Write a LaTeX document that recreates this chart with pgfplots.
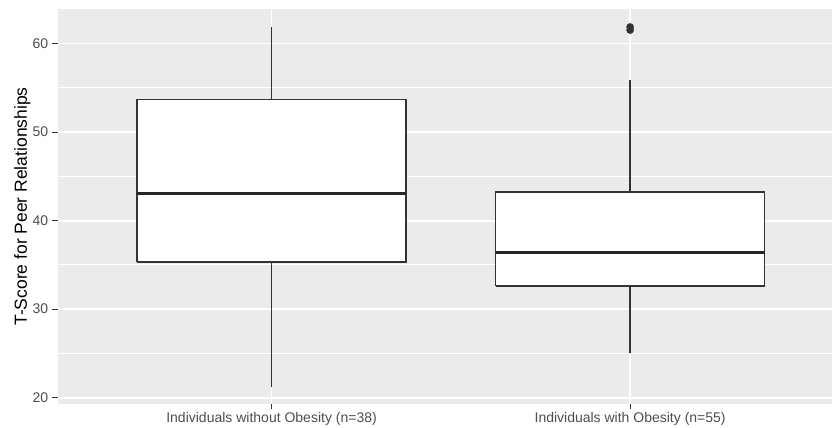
\documentclass[border=0pt]{standalone}
\usepackage{pgfplots}
\pgfplotsset{compat=1.18}
\usepackage{fontspec}
\setmainfont{Liberation Sans}

\definecolor{panelgray}{HTML}{EBEBEB}
\definecolor{gray20}{HTML}{333333}
\definecolor{gray30}{HTML}{4D4D4D}

\begin{document}
\begin{tikzpicture}
\begin{axis}[
    at={(0,0)}, anchor=south west,
    scale only axis,
    width=774.5bp, height=395bp,
    xmin=0.403, xmax=2.563,
    ymin=19.29, ymax=63.9,
    axis background/.style={fill=panelgray},
    axis line style={draw=none},
    xtick={1,2},
    xticklabels={Individuals without Obesity (n=38), Individuals with Obesity (n=55)},
    ytick={20,30,40,50,60},
    minor ytick={25,35,45,55},
    xtick pos=bottom, ytick pos=left,
    tick align=outside,
    major tick length=5bp,
    minor tick length=0pt,
    major tick style={gray20, line width=1bp},
    grid=both,
    major grid style={white, line width=1.8bp},
    minor grid style={white, line width=0.9bp},
    /pgf/number format/assume math mode=true,
    every x tick label/.append style={font=\fontsize{14bp}{16bp}\selectfont, text=gray30, anchor=base, yshift=-13.7bp},
    every y tick label/.append style={font=\fontsize{14bp}{16bp}\selectfont, text=gray30, anchor=east, inner sep=0pt, xshift=-4.2bp},
    ylabel={T-Score for Peer Relationships},
    every axis y label/.style={at={(axis description cs:-0.0395,0.5)}, anchor=base, rotate=90, font=\fontsize{17.5bp}{20bp}\selectfont},
]
% whiskers
\addplot[gray20, line width=1.5bp] coordinates {(1,53.7) (1,61.85)};
\addplot[gray20, line width=1.5bp] coordinates {(1,21.22) (1,35.31)};
\addplot[gray20, line width=1.5bp] coordinates {(2,43.22) (2,55.9)};
\addplot[gray20, line width=1.5bp] coordinates {(2,25.03) (2,32.6)};
% boxes (lower quartile to upper quartile)
\addplot[draw=gray20, fill=white, line width=1.5bp]
    coordinates {(0.625,35.31) (1.375,35.31) (1.375,53.7) (0.625,53.7) (0.625,35.31)};
\addplot[draw=gray20, fill=white, line width=1.5bp]
    coordinates {(1.625,32.6) (2.375,32.6) (2.375,43.22) (1.625,43.22) (1.625,32.6)};
% medians
\addplot[black!85, line width=2.8bp] coordinates {(0.625,43.03) (1.375,43.03)};
\addplot[black!85, line width=2.8bp] coordinates {(1.625,36.44) (2.375,36.44)};
% outliers
\addplot[only marks, mark=*, mark size=3.6bp, gray20] coordinates {(2,61.52) (2,61.87)};
\end{axis}
\pgfresetboundingbox
\path[use as bounding box] (-57.5bp,-24bp) rectangle (774.5bp,404bp);
\end{tikzpicture}
\end{document}
